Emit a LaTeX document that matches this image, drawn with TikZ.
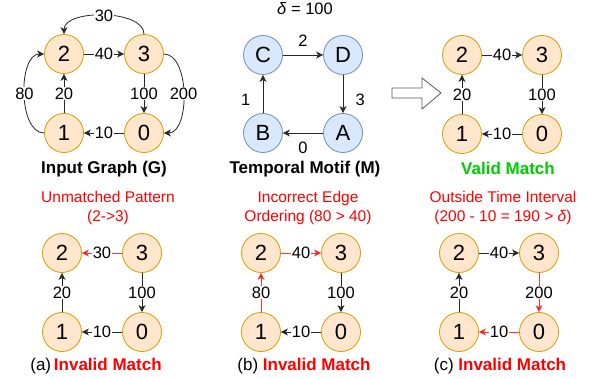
\documentclass[tikz,border=0pt]{standalone}
\usepackage{fontspec}
\setmainfont{Liberation Sans}
\usetikzlibrary{arrows.meta}
\definecolor{vfill}{HTML}{FFE6CC}
\definecolor{vdraw}{HTML}{D79B00}
\definecolor{mfill}{HTML}{DAE8FC}
\definecolor{mdraw}{HTML}{6C8EBF}
\definecolor{okgreen}{HTML}{00CC00}
\definecolor{badred}{HTML}{FF0000}
\definecolor{badline}{HTML}{FF3333}
\begin{document}
\begin{tikzpicture}[x=1pt, y=-1pt,
	vtx/.style={circle, draw=vdraw, fill=vfill, line width=0.8pt, minimum size=39pt, inner sep=0pt, font=\fontsize{22}{22}\selectfont},
	mvtx/.style={vtx, draw=mdraw, fill=mfill},
	edge/.style={line width=0.8pt, draw=black!85, -{Stealth[length=7pt, width=7pt, inset=2pt]}},
	badedge/.style={edge, draw=badline, -{Stealth[length=7pt, width=7pt, inset=2pt, fill=badred]}},
	elab/.style={fill=white, inner sep=1pt, font=\fontsize{16.5}{16.5}\selectfont},
	mlab/.style={inner sep=3.3pt, font=\fontsize{16.5}{16.5}\selectfont},
	capt/.style={font=\bfseries\fontsize{17}{17}\selectfont},
	why/.style={align=center, text=badred, font=\fontsize{15.5}{19}\selectfont}]
	\useasboundingbox (0,0) rectangle (592,379);
	
	%graph vertices, one set per panel
	\foreach \p/\x/\y in {g/64/54, v/462/55, a/62/253, b/261/253, c/459/253}{
		\node[vtx] (\p2) at (\x,\y) {2};
		\node[vtx] (\p3) at (\x+80,\y) {3};
		\node[vtx] (\p1) at (\x,\y+79) {1};
		\node[vtx] (\p0) at (\x+80,\y+79) {0};
	}
	
	%input graph
	\draw[edge] (g2) -- node[elab]{40} (g3);
	\draw[edge] (g1) -- node[elab]{20} (g2);
	\draw[edge] (g3) -- node[elab]{100} (g0);
	\draw[edge] (g0) -- node[elab]{10} (g1);
	\draw[edge] (g3.north) to[out=90, in=90, looseness=0.8] node[elab]{30} (g2.north);
	\draw[edge] (g3.east) to[out=0, in=0, looseness=0.85] node[elab]{200} (g0.east);
	\draw[edge] (g1.west) to[out=180, in=180, looseness=0.85] node[elab]{80} (g2.west);
	\node[capt] (gcap) at (104,169) {Input Graph (G)};
	
	%temporal motif
	\node (delta) at (305,9) [mlab]{\textit{δ} = 100};
	\node[mvtx] (mC) at (263,55) {C};
	\node[mvtx] (mD) at (343,55) {D};
	\node[mvtx] (mB) at (263,133) {B};
	\node[mvtx] (mA) at (343,133) {A};
	\draw[edge] (mC) -- node[mlab, above=5pt]{2} (mD);
	\draw[edge] (mD) -- node[mlab, pos=0.65, right=9pt]{3} (mA);
	\draw[edge] (mA) -- node[mlab, below=5pt]{0} (mB);
	\draw[edge] (mB) -- node[mlab, pos=0.35, left=9pt]{1} (mC);
	\node[capt] (mcap) at (305,169) {Temporal Motif (M)};
	
	%hollow arrow
	\draw[line width=0.8pt, draw=black!65, fill=white] (392,88) -- (422,88) -- (422,78) -- (441,93) -- (422,109) -- (422,98) -- (392,98) -- cycle;
	
	%valid match
	\draw[edge] (v2) -- node[elab]{40} (v3);
	\draw[edge] (v1) -- node[elab]{20} (v2);
	\draw[edge] (v3) -- node[elab]{100} (v0);
	\draw[edge] (v0) -- node[elab]{10} (v1);
	\node[capt, text=okgreen] (vcap) at (508,168) {Valid Match};
	
	%(a) unmatched pattern
	\node[why] (awhy) at (108,208) {Unmatched Pattern\\(2->3)};
	\draw[badedge] (a3) -- node[elab]{30} (a2);
	\draw[edge] (a1) -- node[elab]{20} (a2);
	\draw[edge] (a3) -- node[elab]{100} (a0);
	\draw[edge] (a0) -- node[elab]{10} (a1);
	\node (acap) at (96,366) [font=\fontsize{17}{17}\selectfont]{(a)\,\textcolor{badred}{\bfseries Invalid Match}};
	
	%(b) edge ordering
	\node[why] (bwhy) at (308,208) {Incorrect Edge\\Ordering (80 > 40)};
	\draw[badedge] (b2) -- node[elab]{40} (b3);
	\draw[badedge] (b1) -- node[elab]{80} (b2);
	\draw[edge] (b3) -- node[elab]{100} (b0);
	\draw[edge] (b0) -- node[elab]{10} (b1);
	\node (bcap) at (304,366) [font=\fontsize{17}{17}\selectfont]{(b) \textcolor{badred}{\bfseries Invalid Match}};
	
	%(c) time interval
	\node[why] (cwhy) at (503,208) {Outside Time Interval\\(200 - 10 = 190 > \textit{δ})};
	\draw[edge] (c2) -- node[elab]{40} (c3);
	\draw[edge] (c1) -- node[elab]{20} (c2);
	\draw[badedge] (c3) -- node[elab]{200} (c0);
	\draw[badedge] (c0) -- node[elab]{10} (c1);
	\node (ccap) at (500,366) [font=\fontsize{17}{17}\selectfont]{(c) \textcolor{badred}{\bfseries Invalid Match}};
\end{tikzpicture}
\end{document}
